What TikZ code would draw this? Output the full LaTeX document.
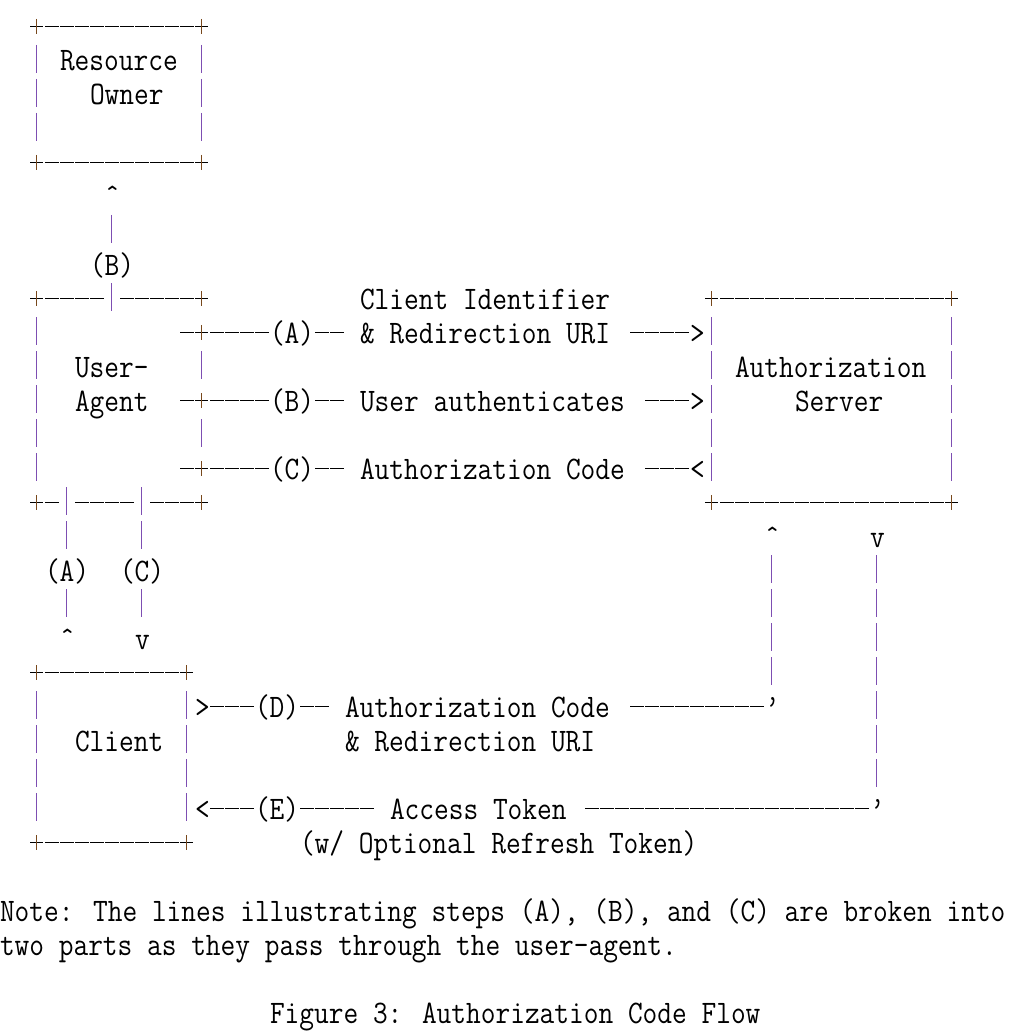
\documentclass[tikz,border=0pt]{standalone}
\usepackage{fontspec}
\usepackage{graphicx}
\definecolor{barpurple}{RGB}{125,78,178}
\definecolor{plusbrown}{RGB}{120,72,28}
\newcommand\asciifont{\fontsize{28.571pt}{34pt}\selectfont\ttfamily}
\tikzset{
  txt/.style={anchor=base west, inner sep=0pt, outer sep=0pt, font=\asciifont},
  dashrun/.style={line width=1.1pt, draw=black, dash pattern=on 14pt off 1pt},
  vbar/.style={line width=1.1pt, draw=barpurple},
  plush/.style={line width=1.1pt, draw=black},
  plusv/.style={line width=1.2pt, draw=plusbrown}
}
% text at column #2, row #3
\newcommand\asciiText[4]{\node[txt] (#1) at ({#2*15},{-37-34*#3}) {\scalebox{1}[1.15]{#4}};}
% run of dashes from column #1 to column #2 in row #3
\newcommand\asciiDash[3]{\draw[dashrun] ({#1*15},{-26.3-34*#3}) -- ({(#2+1)*15-1},{-26.3-34*#3});}
% vertical bar at column #1, row #2
\newcommand\asciiBar[2]{\draw[vbar] ({#1*15+6.5},{-37-34*#2+26}) -- ({#1*15+6.5},{-37-34*#2-2});}
% plus at column #1, row #2
\newcommand\asciiPlus[2]{\draw[plush] ({#1*15},{-26.3-34*#2}) -- ({#1*15+13},{-26.3-34*#2});
  \draw[plusv] ({#1*15+6.5},{-37-34*#2+18}) -- ({#1*15+6.5},{-37-34*#2+3});}
\begin{document}
\begin{tikzpicture}[x=1pt,y=1pt]
\useasboundingbox (0,0) rectangle (1029,-1032);
% Resource Owner box
\asciiPlus{2}{0}\asciiDash{3}{12}{0}\asciiPlus{13}{0}
\asciiBar{2}{1}\asciiText{ro1}{4}{1}{Resource}\asciiBar{13}{1}
\asciiBar{2}{2}\asciiText{ro2}{6}{2}{Owner}\asciiBar{13}{2}
\asciiBar{2}{3}\asciiBar{13}{3}
\asciiPlus{2}{4}\asciiDash{3}{12}{4}\asciiPlus{13}{4}
\asciiText{upB}{7}{5}{ˆ}
\asciiBar{7}{6}
\asciiText{labB}{6}{7}{(B)}
% row 8
\asciiPlus{2}{8}\asciiDash{3}{6}{8}\asciiBar{7}{8}\asciiDash{8}{12}{8}\asciiPlus{13}{8}
\asciiText{cid}{24}{8}{Client Identifier}
\asciiPlus{47}{8}\asciiDash{48}{62}{8}\asciiPlus{63}{8}
% row 9
\asciiBar{2}{9}\asciiDash{12}{12}{9}\asciiPlus{13}{9}\asciiDash{14}{17}{9}
\asciiText{a1}{18}{9}{(A)}\asciiDash{21}{22}{9}
\asciiText{redir1}{24}{9}{\& Redirection URI}\asciiDash{42}{45}{9}
\asciiText{arA}{46}{9}{>}\asciiBar{47}{9}\asciiBar{63}{9}
% row 10
\asciiBar{2}{10}\asciiText{ua1}{5}{10}{User-}\asciiBar{13}{10}
\asciiBar{47}{10}\asciiText{as1}{49}{10}{Authorization}\asciiBar{63}{10}
% row 11
\asciiBar{2}{11}\asciiText{ua2}{5}{11}{Agent}\asciiDash{12}{12}{11}\asciiPlus{13}{11}\asciiDash{14}{17}{11}
\asciiText{b1}{18}{11}{(B)}\asciiDash{21}{22}{11}
\asciiText{uauth}{24}{11}{User authenticates}\asciiDash{43}{45}{11}
\asciiText{arB}{46}{11}{>}\asciiBar{47}{11}\asciiText{as2}{53}{11}{Server}\asciiBar{63}{11}
% row 12
\asciiBar{2}{12}\asciiBar{13}{12}\asciiBar{47}{12}\asciiBar{63}{12}
% row 13
\asciiBar{2}{13}\asciiDash{12}{12}{13}\asciiPlus{13}{13}\asciiDash{14}{17}{13}
\asciiText{c1}{18}{13}{(C)}\asciiDash{21}{22}{13}
\asciiText{acode1}{24}{13}{Authorization Code}\asciiDash{43}{45}{13}
\asciiText{arC}{46}{13}{<}\asciiBar{47}{13}\asciiBar{63}{13}
% row 14
\asciiPlus{2}{14}\asciiDash{3}{3}{14}\asciiBar{4}{14}\asciiDash{5}{8}{14}\asciiBar{9}{14}\asciiDash{10}{12}{14}\asciiPlus{13}{14}
\asciiPlus{47}{14}\asciiDash{48}{62}{14}\asciiPlus{63}{14}
% row 15
\asciiBar{4}{15}\asciiBar{9}{15}
\asciiText{upD}{51}{15}{ˆ}\asciiText{dnE}{58}{15}{v}
% row 16
\asciiText{a2}{3}{16}{(A)}\asciiText{c2}{8}{16}{(C)}\asciiBar{51}{16}\asciiBar{58}{16}
% row 17
\asciiBar{4}{17}\asciiBar{9}{17}\asciiBar{51}{17}\asciiBar{58}{17}
% row 18
\asciiText{upA}{4}{18}{ˆ}\asciiText{dnC}{9}{18}{v}\asciiBar{51}{18}\asciiBar{58}{18}
% row 19 Client box
\asciiPlus{2}{19}\asciiDash{3}{11}{19}\asciiPlus{12}{19}\asciiBar{51}{19}\asciiBar{58}{19}
% row 20
\asciiBar{2}{20}\asciiBar{12}{20}\asciiText{arD}{13}{20}{>}\asciiDash{14}{16}{20}
\asciiText{d1}{17}{20}{(D)}\asciiDash{20}{21}{20}
\asciiText{acode2}{23}{20}{Authorization Code}\asciiDash{42}{50}{20}
\asciiText{cornD}{51}{20}{’}\asciiBar{58}{20}
% row 21
\asciiBar{2}{21}\asciiText{cl}{5}{21}{Client}\asciiBar{12}{21}
\asciiText{redir2}{23}{21}{\& Redirection URI}\asciiBar{58}{21}
% row 22
\asciiBar{2}{22}\asciiBar{12}{22}\asciiBar{58}{22}
% row 23
\asciiBar{2}{23}\asciiBar{12}{23}\asciiText{arE}{13}{23}{<}\asciiDash{14}{16}{23}
\asciiText{e1}{17}{23}{(E)}\asciiDash{20}{24}{23}
\asciiText{atok}{26}{23}{Access Token}\asciiDash{39}{57}{23}
\asciiText{cornE}{58}{23}{’}
% row 24
\asciiPlus{2}{24}\asciiDash{3}{11}{24}\asciiPlus{12}{24}
\asciiText{rtok}{20}{24}{(w/ Optional Refresh Token)}
% notes
\asciiText{note1}{0}{26}{Note: The lines illustrating steps (A), (B), and (C) are broken into}
\asciiText{note2}{0}{27}{two parts as they pass through the user-agent.}
\asciiText{cap}{18}{29}{Figure 3: Authorization Code Flow}
\end{tikzpicture}
\end{document}
